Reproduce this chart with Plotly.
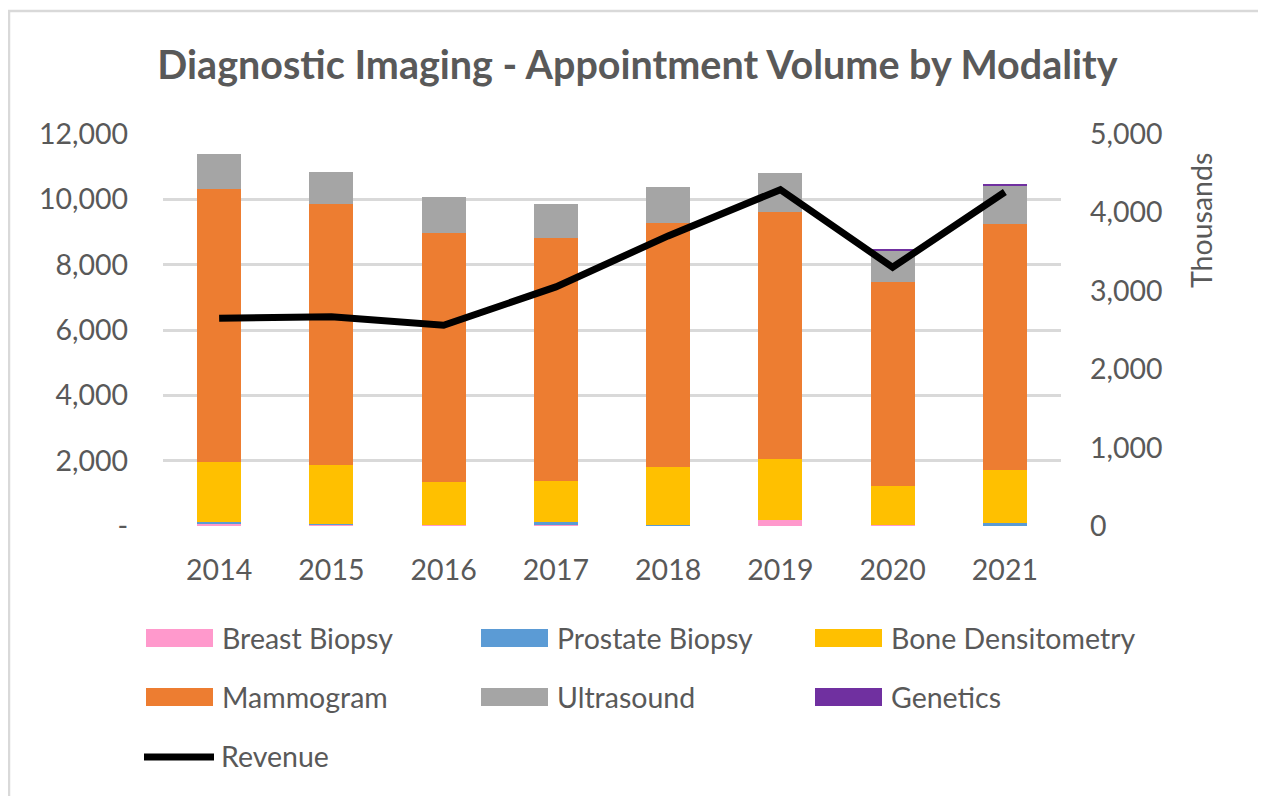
import plotly.graph_objects as go

years = ["2014", "2015", "2016", "2017", "2018", "2019", "2020", "2021"]
breast_biopsy = [60, 50, 40, 50, 30, 190, 20, 10]
prostate_biopsy = [70, 10, 0, 60, 10, 0, 0, 90]
bone_densitometry = [1830, 1800, 1300, 1280, 1770, 1870, 1210, 1600]
mammogram = [8360, 8000, 7630, 7430, 7480, 7540, 6230, 7530]
ultrasound = [1070, 980, 1090, 1040, 1080, 1200, 970, 1200]
genetics = [0, 0, 0, 0, 0, 0, 40, 40]
revenue_thousands = [2650, 2670, 2560, 3050, 3700, 4290, 3300, 4260]

left_ticks = [0, 2000, 4000, 6000, 8000, 10000, 12000]
left_labels = ["-", "2,000", "4,000", "6,000", "8,000", "10,000", "12,000"]
right_ticks = [0, 1000, 2000, 3000, 4000, 5000]
right_labels = ["0", "1,000", "2,000", "3,000", "4,000", "5,000"]

series = [
    ("Breast Biopsy", breast_biopsy, "#FF99CC"),
    ("Prostate Biopsy", prostate_biopsy, "#5B9BD5"),
    ("Bone Densitometry", bone_densitometry, "#FFC000"),
    ("Mammogram", mammogram, "#ED7D31"),
    ("Ultrasound", ultrasound, "#A5A5A5"),
    ("Genetics", genetics, "#7030A0"),
]

OFF = 8  # page body margin
W, H = 1266 - OFF, 796 - OFF
L, R, T, B = 163 - OFF, 1061 - OFF, 134 - OFF, 526 - OFF
FONT = "Lato"
GREY = "#595959"
FS = 28.5

def px(x):
    return (x - OFF - L) / (R - L)

def py(y):
    return (B - (y - OFF)) / (B - T)

fig = go.Figure()
for name, vals, col in series:
    fig.add_trace(go.Bar(x=years, y=vals, name=name, marker=dict(color=col, line=dict(width=0)),
                         showlegend=False, yaxis="y"))
fig.add_trace(go.Scatter(x=years, y=revenue_thousands, name="Revenue", mode="lines",
                         line=dict(color="black", width=7), showlegend=False, yaxis="y2"))

shapes = []
annotations = []
# chart border
shapes.append(dict(type="rect", xref="paper", yref="paper", x0=px(9), x1=px(1265), y0=py(11), y1=py(805),
                   line=dict(color="#D9D9D9", width=2.5), fillcolor="rgba(0,0,0,0)", layer="below"))

# custom legend
cols_x = [146, 481, 815]
rows_y = [638, 697, 756]
for i, (name, vals, col) in enumerate(series):
    cx = cols_x[i % 3]
    cy = rows_y[i // 3]
    shapes.append(dict(type="rect", xref="paper", yref="paper", x0=px(cx), x1=px(cx + 67),
                       y0=py(cy - 9), y1=py(cy + 9), fillcolor=col, line=dict(width=0)))
    annotations.append(dict(xref="paper", yref="paper", x=px(cx + 74), y=py(cy), text=name,
                            showarrow=False, xanchor="left", yanchor="middle",
                            font=dict(family=FONT, size=FS, color=GREY)))
shapes.append(dict(type="line", xref="paper", yref="paper", x0=px(144), x1=px(214), y0=py(757), y1=py(757),
                   line=dict(color="black", width=7)))
annotations.append(dict(xref="paper", yref="paper", x=px(219), y=py(756), text="Revenue",
                        showarrow=False, xanchor="left", yanchor="middle",
                        font=dict(family=FONT, size=FS, color=GREY)))
# display-unit label of the secondary axis
annotations.append(dict(xref="paper", yref="paper", x=px(1201), y=py(221), text="Thousands",
                        showarrow=False, textangle=-90, xanchor="center", yanchor="middle",
                        font=dict(family=FONT, size=FS, color=GREY)))

fig.update_layout(
    width=W, height=H,
    margin=dict(l=L, r=W - R, t=T, b=H - B, pad=0),
    barmode="stack", bargap=0.61,
    plot_bgcolor="white", paper_bgcolor="white",
    font=dict(family=FONT, color=GREY, size=FS),
    title=dict(text="<b>Diagnostic Imaging - Appointment Volume by Modality</b>",
               x=(637.5 - OFF) / W, xref="container", xanchor="center",
               y=1 - (65 - OFF) / H, yref="container", yanchor="middle",
               font=dict(family=FONT, size=39.5, color=GREY)),
    xaxis=dict(showgrid=False, showline=False, ticks="", ticklabelstandoff=24,
               tickfont=dict(family=FONT, size=FS, color=GREY)),
    yaxis=dict(range=[0, 12000], tickvals=left_ticks, ticktext=left_labels,
               showgrid=True, gridcolor="#D9D9D9", gridwidth=2.5, zeroline=False,
               showline=False, ticks="", ticklabelstandoff=34,
               tickfont=dict(family=FONT, size=FS, color=GREY)),
    yaxis2=dict(range=[0, 5000], tickvals=right_ticks, ticktext=right_labels,
                overlaying="y", side="right", showgrid=False, zeroline=False,
                showline=False, ticks="", ticklabelstandoff=28,
                tickfont=dict(family=FONT, size=FS, color=GREY)),
    shapes=shapes,
    annotations=annotations,
)

fig.write_html("out.html")
